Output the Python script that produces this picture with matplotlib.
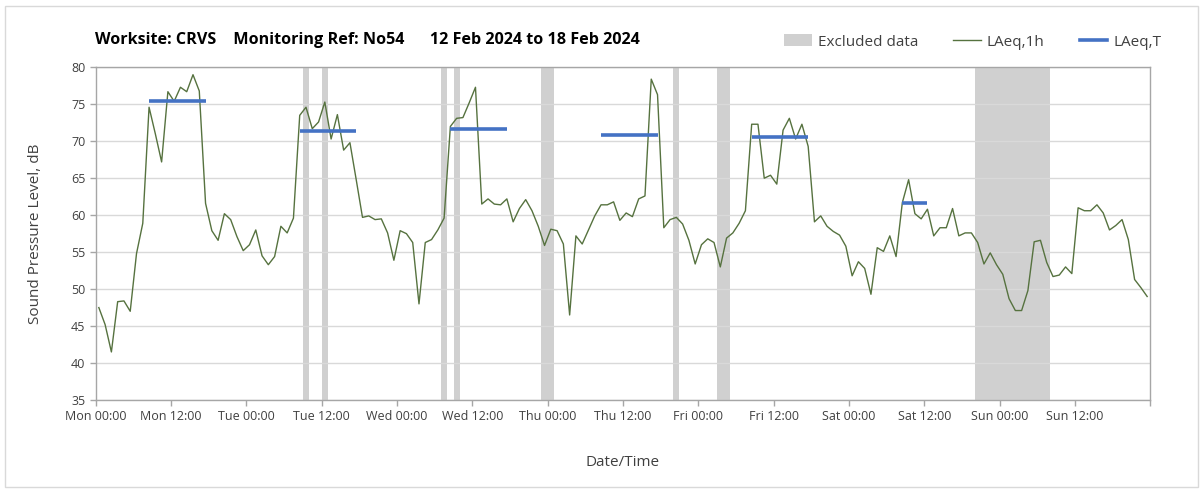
import numpy as np
import matplotlib
matplotlib.use("Agg")
import matplotlib.pyplot as plt
from matplotlib.patches import Patch, Rectangle
from matplotlib.lines import Line2D

# ---- data ----
# hourly LAeq,1h values, plotted at mid-hour (hours since Mon 00:00)
laeq_1h = [
    47.5, 45.2, 41.5, 48.3, 48.4, 47.0, 54.8, 58.9, 74.6, 71.0, 67.2, 76.7,
    75.4, 77.3, 76.7, 79.0, 76.8, 61.6, 57.9, 56.6, 60.2, 59.4, 57.1, 55.2,
    56.0, 58.0, 54.5, 53.3, 54.4, 58.5, 57.6, 59.6, 73.5, 74.6, 71.7, 72.6,
    75.3, 70.3, 73.6, 68.8, 69.8, 64.8, 59.7, 59.9, 59.4, 59.5, 57.6, 53.9,
    57.9, 57.5, 56.3, 48.0, 56.3, 56.7, 58.0, 59.6, 72.0, 73.1, 73.2, 75.2,
    77.3, 61.5, 62.2, 61.5, 61.4, 62.2, 59.1, 60.9, 62.1, 60.6, 58.5, 55.9,
    58.1, 57.9, 56.1, 46.5, 57.2, 56.1, 58.0, 59.9, 61.4, 61.4, 61.8, 59.3,
    60.3, 59.8, 62.2, 62.6, 78.4, 76.3, 58.3, 59.4, 59.7, 58.8, 56.6, 53.4,
    56.0, 56.8, 56.3, 53.0, 56.9, 57.6, 58.9, 60.6, 72.3, 72.3, 65.0, 65.4,
    64.2, 71.5, 73.1, 70.3, 72.3, 69.3, 59.1, 59.9, 58.5, 57.8, 57.3, 55.8,
    51.8, 53.7, 52.8, 49.3, 55.6, 55.1, 57.2, 54.4, 61.7, 64.8, 60.2, 59.5,
    60.8, 57.2, 58.3, 58.3, 60.9, 57.2, 57.6, 57.6, 56.3, 53.4, 54.9, 53.3,
    52.0, 48.7, 47.1, 47.1, 49.8, 56.4, 56.6, 53.6, 51.7, 51.9, 53.0, 52.1,
    61.0, 60.6, 60.6, 61.4, 60.3, 58.0, 58.6, 59.4, 56.7, 51.3, 50.2, 49.0,
]
hours = np.arange(len(laeq_1h)) + 0.5

# excluded data periods (start hour, end hour)
excl_start = [33, 36, 55, 57, 71, 92, 99, 140]
excl_end = [34, 37, 56, 58, 73, 93, 101, 152]

# LAeq,T periods (start hour, end hour, level)
laeqT_start = [8.5, 32.5, 56.5, 80.5, 104.5, 128.5]
laeqT_end = [17.5, 41.5, 65.5, 89.5, 113.5, 132.5]
laeqT_val = [75.45, 71.4, 71.65, 70.85, 70.6, 61.65]

tick_labels = ["Mon 00:00", "Mon 12:00", "Tue 00:00", "Tue 12:00",
               "Wed 00:00", "Wed 12:00", "Thu 00:00", "Thu 12:00",
               "Fri 00:00", "Fri 12:00", "Sat 00:00", "Sat 12:00",
               "Sun 00:00", "Sun 12:00", ""]

title = "Worksite: CRVS    Monitoring Ref: No54      12 Feb 2024 to 18 Feb 2024"

# ---- style ----
plt.rcParams['font.family'] = ['Open Sans', 'DejaVu Sans']
txt = '#404040'
grid_c = '#d9d9d9'
band_c = '#d0d0d0'
green = '#56723f'
blue = '#4472c4'

fig = plt.figure(figsize=(12.03, 4.92), dpi=100)
fig.patches.append(Rectangle((0.004, 0.01), 0.992, 0.978, transform=fig.transFigure,
                             fill=False, edgecolor='#d9d9d9', linewidth=1.0))
ax = fig.add_axes([95.7 / 1203, 1 - 400 / 492, (1150.3 - 95.7) / 1203, (400 - 67.3) / 492])

for s, e in zip(excl_start, excl_end):
    ax.axvspan(s, e, color=band_c, lw=0, zorder=0.1)

ax.plot(hours, laeq_1h, color=green, lw=1.0, zorder=3)
for s, e, v in zip(laeqT_start, laeqT_end, laeqT_val):
    ax.plot([s, e], [v, v], color=blue, lw=2.6, zorder=4, solid_capstyle='butt')

ax.set_xlim(0, 168)
ax.set_ylim(35, 80)
ax.set_yticks(np.arange(35, 81, 5))
ax.set_xticks(np.arange(0, 169, 12))
ax.set_xticklabels(tick_labels)
ax.set_axisbelow(True)
ax.grid(axis='y', color=grid_c, lw=1.0)
ax.set_xticks(np.arange(0, 169, 24), minor=True)
ax.grid(axis='x', which='minor', color=grid_c, lw=1.0)
ax.tick_params(axis='x', which='minor', length=0)
ax.tick_params(axis='both', which='major', labelsize=9, colors='#a6a6a6',
               labelcolor=txt, length=4, width=1.0, direction='out')
for sp in ax.spines.values():
    sp.set_color('#a6a6a6')
    sp.set_linewidth(1.0)

ax.set_ylabel("Sound Pressure Level, dB", fontsize=11, color=txt, labelpad=20)
ax.set_xlabel("Date/Time", fontsize=11, color=txt, labelpad=23)

fig.text(95 / 1203, 1 - 40 / 492, title, fontsize=11.6, fontweight='bold',
         color='black', ha='left', va='center')

handles = [Patch(facecolor=band_c, edgecolor='none'),
           Line2D([], [], color=green, lw=1.0),
           Line2D([], [], color=blue, lw=2.6)]
labels = ["Excluded data", "LAeq,1h", "LAeq,T"]
fig.legend(handles, labels, loc='center right', bbox_to_anchor=(1175 / 1203, 1 - 42 / 492),
           ncol=3, frameon=False, fontsize=11, handlelength=1.8, handleheight=0.8,
           columnspacing=2.3, handletextpad=0.4, labelcolor=txt)

fig.savefig("out.png", dpi=100)
